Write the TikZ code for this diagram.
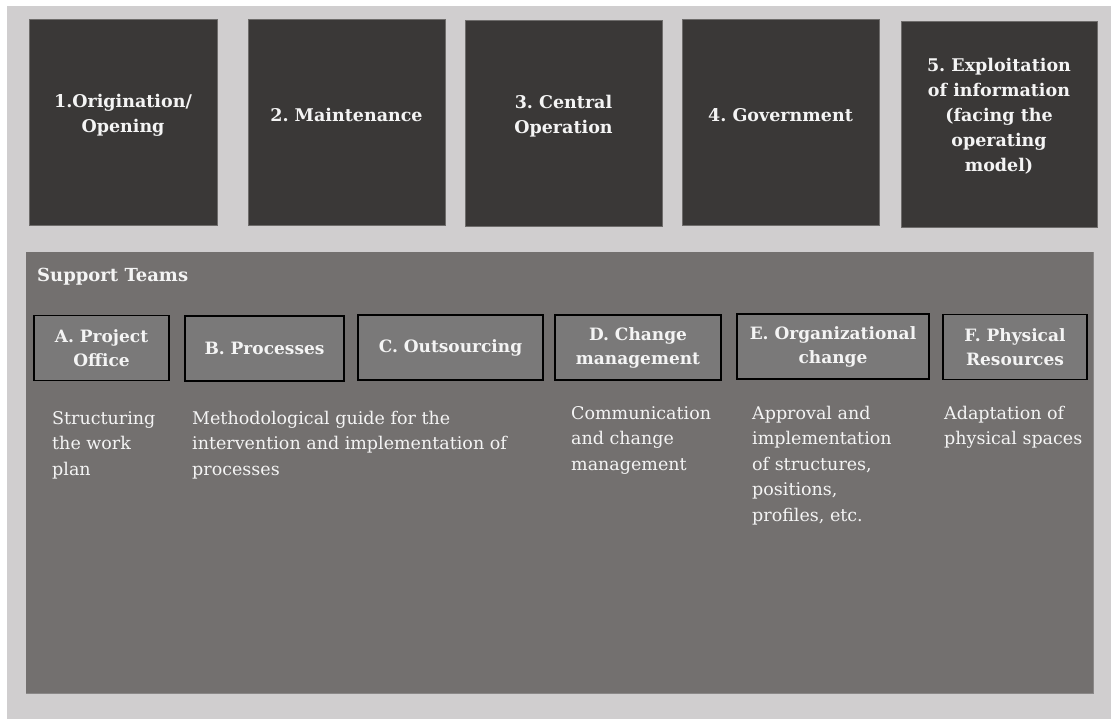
\documentclass[tikz,border=0pt]{standalone}
\usepackage{fontspec}
\setmainfont{DejaVu Serif}
\definecolor{pagegray}{HTML}{D0CECF}
\definecolor{phasefill}{HTML}{3A3837}
\definecolor{phaseedge}{HTML}{6E6C6B}
\definecolor{panelfill}{HTML}{73706F}
\definecolor{paneledge}{HTML}{8A8888}
\definecolor{teamfill}{HTML}{7A7979}
\definecolor{inktext}{HTML}{F4F4F4}
\begin{document}
\frenchspacing
\begin{tikzpicture}[x=1pt,y=-1pt,
  phase/.style={rectangle, fill=phasefill, draw=phaseedge, line width=0.8pt, inner sep=0pt},
  phasetext/.style={text=inktext, font=\fontsize{17.5}{25}\selectfont\bfseries, align=center, inner sep=0pt},
  team/.style={rectangle, fill=teamfill, draw=black, line width=1.6pt, inner sep=0pt,
    text=inktext, font=\fontsize{17}{24}\selectfont\bfseries, align=center},
  desc/.style={anchor=north west, text=inktext, font=\fontsize{17.5}{25.5}\selectfont, align=left, inner sep=0pt}]
\useasboundingbox (0,0) rectangle (1111,719);
\fill[white] (0,0) rectangle (1111,719);
\fill[pagegray] (7,6) rectangle (1111,719);

% operating phases
\node[phase, minimum width=188, minimum height=206] (p1) at (123,122) {};
\node[phase, minimum width=197, minimum height=206] (p2) at (346.5,122) {};
\node[phase, minimum width=197, minimum height=206] (p3) at (563.5,123) {};
\node[phase, minimum width=197, minimum height=206] (p4) at (780.5,122) {};
\node[phase, minimum width=196, minimum height=206] (p5) at (999,124) {};

\node[phasetext] (t1) at (123,115) {1.Origination/\\Opening};
\node[phasetext] (t2) at (346.5,115) {2. Maintenance};
\node[phasetext] (t3) at (563.5,116) {3. Central\\Operation};
\node[phasetext] (t4) at (780.5,115) {4. Government};
\node[phasetext] (t5) at (999,116) {5. Exploitation\\of information\\(facing the\\operating\\model)};

% support panel
\fill[panelfill] (26,252) rectangle (1093,693);
\draw[paneledge, line width=0.8pt] (26,693) -- (1093,693) -- (1093,252);
\node[anchor=west, text=inktext, font=\fontsize{18}{20}\selectfont\bfseries, inner sep=0pt] (st) at (37,277) {Support Teams};

% support teams
\node[team, minimum width=135, minimum height=65] (a) at (101.5,348) {A. Project\\Office};
\node[team, minimum width=159, minimum height=65] (b) at (264.5,348.5) {B. Processes};
\node[team, minimum width=185, minimum height=65] (c) at (450.5,347.5) {C. Outsourcing};
\node[team, minimum width=166, minimum height=65] (d) at (638,347.5) {D. Change\\management};
\node[team, minimum width=192, minimum height=65] (e) at (833,346.5) {E. Organizational\\change};
\node[team, minimum width=144, minimum height=65] (f) at (1015,347) {F. Physical\\Resources};

% team descriptions
\node[desc] (da) at (52,411) {Structuring\\the work\\plan};
\node[desc] (db) at (192,411) {Methodological guide for the\\intervention and implementation of\\processes};
\node[desc] (dd) at (571,406) {Communication\\and change\\management};
\node[desc] (de) at (752,406) {Approval and\\implementation\\of structures,\\positions,\\profiles, etc.};
\node[desc] (df) at (944,406) {Adaptation of\\physical spaces};
\end{tikzpicture}
\end{document}
